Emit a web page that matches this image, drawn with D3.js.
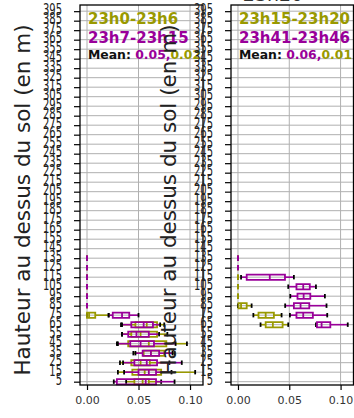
<!DOCTYPE html>
<html>
<head>
<meta charset="utf-8">
<script src="https://cdnjs.cloudflare.com/ajax/libs/d3/7.8.5/d3.min.js"></script>
<style>
body { margin: 0; background: #fff; }
svg { display: block; font-family: "DejaVu Sans", sans-serif; }
</style>
</head>
<body>
<svg id="chart" width="354" height="418"></svg>
<script>
// heights above ground (categories of the y axis)
const heights = [5, 15, 25, 35, 45, 55, 65, 75, 85, 95, 105, 115, 125, 135, 145, 155, 165, 175, 185, 195,
  205, 215, 225, 235, 245, 255, 265, 275, 285, 295, 305, 315, 325, 335, 345, 355, 365, 375, 385, 395]
const x_ticks = [0, 0.05, 0.10]

// rows: [height, whisker low, q1, median, q3, whisker high]
const left_early = [
  [5, 0.038, 0.046, 0.054, 0.060, 0.072],
  [15, 0.030, 0.044, 0.056, 0.072, 0.105],
  [25, 0.032, 0.043, 0.052, 0.061, 0.080],
  [35, 0.045, 0.055, 0.062, 0.075, 0.085],
  [45, 0.029, 0.040, 0.060, 0.077, 0.097],
  [55, 0.034, 0.043, 0.052, 0.068, 0.078],
  [65, 0.033, 0.047, 0.058, 0.068, 0.075],
  [75, 0.000, 0.000, 0.002, 0.008, 0.021],
  [85, 0, 0, 0, 0, 0],
  [95, 0, 0, 0, 0, 0],
  [105, 0, 0, 0, 0, 0],
  [115, 0, 0, 0, 0, 0],
  [125, 0, 0, 0, 0, 0],
  [135, 0, 0, 0, 0, 0]
]
const left_late = [
  [5, 0.026, 0.029, 0.057, 0.067, 0.085],
  [15, 0.036, 0.050, 0.060, 0.067, 0.082],
  [25, 0.035, 0.046, 0.058, 0.068, 0.092],
  [35, 0.047, 0.054, 0.062, 0.070, 0.083],
  [45, 0.030, 0.042, 0.052, 0.065, 0.086],
  [55, 0.034, 0.040, 0.048, 0.060, 0.070],
  [65, 0.034, 0.043, 0.055, 0.064, 0.071],
  [75, 0.021, 0.025, 0.034, 0.041, 0.050],
  [85, 0, 0, 0, 0, 0],
  [95, 0, 0, 0, 0, 0],
  [105, 0, 0, 0, 0, 0],
  [115, 0, 0, 0, 0, 0],
  [125, 0, 0, 0, 0, 0],
  [135, 0, 0, 0, 0, 0]
]
const right_early = [
  [65, 0.022, 0.027, 0.034, 0.0435, 0.049],
  [75, 0.015, 0.020, 0.027, 0.035, 0.0425],
  [85, 0.000, 0.0005, 0.003, 0.0085, 0.0133],
  [95, 0, 0, 0, 0, 0],
  [105, 0, 0, 0, 0, 0],
  [115, 0, 0, 0, 0, 0],
  [125, 0, 0, 0, 0, 0],
  [135, 0, 0, 0, 0, 0]
]
const right_late = [
  [65, 0.076, 0.077, 0.0815, 0.090, 0.107],
  [75, 0.0506, 0.057, 0.0636, 0.073, 0.087],
  [85, 0.046, 0.0545, 0.061, 0.0695, 0.0863],
  [95, 0.051, 0.058, 0.064, 0.0705, 0.0847],
  [105, 0.049, 0.057, 0.0636, 0.070, 0.076],
  [115, 0.003, 0.0085, 0.031, 0.0458, 0.0545],
  [125, 0, 0, 0, 0, 0],
  [135, 0, 0, 0, 0, 0]
]
const left_labels = ["23h0-23h6", "23h7-23h15"]
const right_labels = ["23h15-23h20", "23h41-23h46"]
const left_means = ["0.05", "0.02"]
const right_means = ["0.06", "0.01"]
const right_title = "23h20"
const y_title = "Hauteur au dessus du sol (en m)"

const olive = "#999900", purple = "#990099"

let svg = d3.select("#chart")

function draw_panel(left, right, early, late, labels, means) {
  let x = d3.scaleLinear().domain([-0.0068, 0.1126]).range([left, right])
  let y = d3.scalePoint().domain(heights).range([385, 5]).padding(0.5).align(0.65)
  let g = svg.append("g")

  // grid
  g.selectAll("line.hgrid").data(heights).enter().append("line")
    .attr("x1", left).attr("x2", right)
    .attr("y1", d => y(d)).attr("y2", d => y(d))
    .attr("stroke", "#b0b0b0").attr("stroke-width", 1)
  g.selectAll("line.vgrid").data(x_ticks).enter().append("line")
    .attr("x1", d => x(d)).attr("x2", d => x(d))
    .attr("y1", 5).attr("y2", 385)
    .attr("stroke", "#b0b0b0").attr("stroke-width", 1)

  draw_boxes(g, x, y, early, olive)
  draw_boxes(g, x, y, late, purple)

  // axes
  g.append("g").attr("transform", `translate(${left},0)`)
    .call(d3.axisLeft(y).tickSize(6).tickPadding(12))
    .call(a => a.select(".domain").remove())
    .call(a => a.selectAll("line").attr("stroke-width", 1.2))
    .call(a => a.selectAll("text").attr("font-size", 10).attr("fill", "#222")
      .attr("font-family", "DejaVu Sans").attr("transform", "scale(1,1.5)").attr("dy", "0.2em"))
  g.append("g").attr("transform", "translate(0,385)")
    .call(d3.axisBottom(x).tickValues(x_ticks).tickFormat(d3.format(".2f")).tickSize(5).tickPadding(6))
    .call(a => a.select(".domain").remove())
    .call(a => a.selectAll("line").attr("stroke-width", 1.2))
    .call(a => a.selectAll("text").attr("font-size", 11).attr("fill", "#333").attr("font-family", "DejaVu Sans"))
  g.append("rect")
    .attr("x", left).attr("y", 5).attr("width", right - left).attr("height", 380)
    .attr("fill", "none").attr("stroke", "#000").attr("stroke-width", 1.3)

  // legend text
  let tx = x(0) + 1
  g.append("text").attr("x", tx).attr("y", 24).attr("font-size", 15).attr("font-weight", "bold")
    .attr("fill", olive).text(labels[0])
  g.append("text").attr("x", tx).attr("y", 43).attr("font-size", 15).attr("font-weight", "bold")
    .attr("fill", purple).text(labels[1])
  let mean = g.append("text").attr("x", tx).attr("y", 59).attr("font-size", 12.4).attr("font-weight", "bold")
  mean.append("tspan").attr("fill", "#111").text("Mean: ")
  mean.append("tspan").attr("fill", purple).text(means[0] + ",")
  mean.append("tspan").attr("fill", olive).text(means[1])
  return g
}

function draw_boxes(g, x, y, rows, color) {
  let h = 2.6, c = 2.2
  let box = g.append("g").selectAll("g").data(rows).enter().append("g")
  box.append("line")
    .attr("x1", d => x(d[1])).attr("x2", d => x(d[2]))
    .attr("y1", d => y(d[0])).attr("y2", d => y(d[0]))
    .attr("stroke", color).attr("stroke-width", 1.6)
  box.append("line")
    .attr("x1", d => x(d[4])).attr("x2", d => x(d[5]))
    .attr("y1", d => y(d[0])).attr("y2", d => y(d[0]))
    .attr("stroke", color).attr("stroke-width", 1.6)
  // caps first, box on top (as matplotlib draws them)
  box.selectAll("line.cap").data(d => [[d[0], d[1]], [d[0], d[5]]]).enter().append("line")
    .attr("x1", d => x(d[1])).attr("x2", d => x(d[1]))
    .attr("y1", d => y(d[0]) - c).attr("y2", d => y(d[0]) + c)
    .attr("stroke", "#000").attr("stroke-width", 1.8)
  box.append("path")
    .attr("d", d => `M${x(d[2])},${y(d[0]) - h}H${x(d[4])}V${y(d[0]) + h}H${x(d[2])}Z`)
    .attr("fill", "none").attr("stroke", color).attr("stroke-width", 1.8)
  box.append("line")
    .attr("x1", d => x(d[3])).attr("x2", d => x(d[3]))
    .attr("y1", d => y(d[0]) - h).attr("y2", d => y(d[0]) + h)
    .attr("stroke", color).attr("stroke-width", 1.8)
}

function y_label(cx) {
  svg.append("text")
    .attr("transform", `translate(${cx},200) rotate(-90)`)
    .attr("text-anchor", "middle").attr("dy", "0.35em")
    .attr("font-size", 21.5).attr("fill", "#222")
    .text(y_title)
}

y_label(22)
draw_panel(80, 203, left_early, left_late, left_labels, left_means)
y_label(168)
draw_panel(231, 353.5, right_early, right_late, right_labels, right_means)
// the panel title sits above the picture, only its lower edge shows
svg.append("text").attr("x", 273).attr("y", 1).attr("text-anchor", "middle")
  .attr("font-size", 19).attr("fill", "#333").text(right_title)
</script>
</body>
</html>
